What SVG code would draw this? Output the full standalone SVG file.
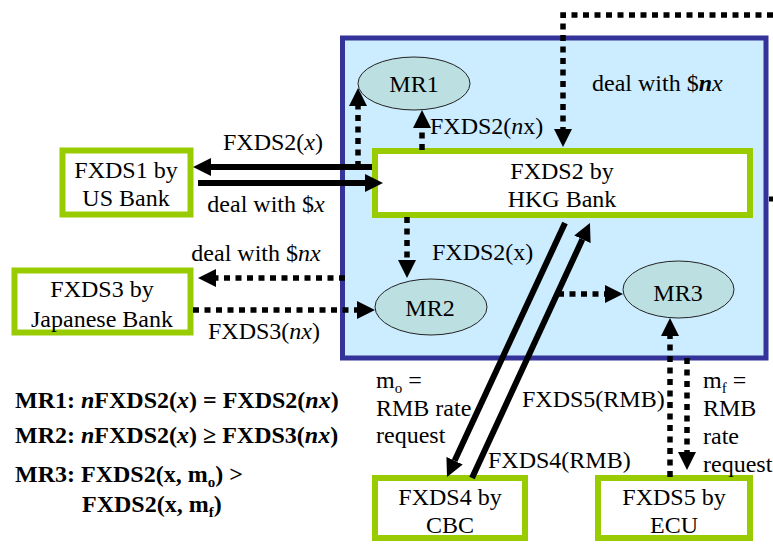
<svg xmlns="http://www.w3.org/2000/svg" width="773" height="544" viewBox="0 0 773 544">
<style>
text{font-family:"Liberation Serif","Times New Roman",serif;font-size:24px;fill:#000}
.c{text-anchor:middle}
.b{font-weight:bold;font-size:24px}
.i{font-style:italic}
.box{fill:#fff;stroke:#99CC00;stroke-width:6}
.mr{fill:#BCE0E2;stroke:#222;stroke-width:1}
.dot{fill:none;stroke:#000;stroke-width:5.5;stroke-dasharray:6 5.5;marker-end:url(#ah)}
.sol{fill:none;stroke:#000;stroke-width:6;marker-end:url(#ah)}
.sub{font-size:15px}
</style>
<defs>
<marker id="ah" viewBox="0 -10 20 20" refX="0" refY="0" markerWidth="20" markerHeight="20" markerUnits="userSpaceOnUse" orient="auto">
<path d="M0,-9 L18,0 L0,9 z" fill="#000"/>
</marker>
</defs>
<rect id="hkg-domain" x="342.5" y="38" width="423.5" height="320" fill="#CCECFF" stroke="#333399" stroke-width="5"/>

<g id="fxds2">
<rect class="box" x="375" y="151" width="375" height="64"/>
<text class="c" x="562" y="179">FXDS2 by</text>
<text class="c" x="562" y="207">HKG Bank</text>
</g>
<g id="fxds1">
<rect class="box" x="62.5" y="150.5" width="128" height="64"/>
<text class="c" x="126" y="178">FXDS1 by</text>
<text class="c" x="126" y="206">US Bank</text>
</g>
<g id="fxds3">
<rect class="box" x="14.5" y="270.5" width="176" height="62"/>
<text class="c" x="102" y="297">FXDS3 by</text>
<text class="c" x="102" y="327">Japanese Bank</text>
</g>
<g id="fxds4">
<rect class="box" x="375" y="478" width="150" height="60"/>
<text class="c" x="450" y="505">FXDS4 by</text>
<text class="c" x="450" y="533">CBC</text>
</g>
<g id="fxds5">
<rect class="box" x="598" y="478" width="152" height="60"/>
<text class="c" x="674" y="505">FXDS5 by</text>
<text class="c" x="674" y="533">ECU</text>
</g>
<g id="mr1">
<ellipse class="mr" cx="414" cy="83.5" rx="56" ry="26.5"/>
<text class="c" x="414" y="92">MR1</text>
</g>
<g id="mr2">
<ellipse class="mr" cx="431" cy="307" rx="56" ry="28"/>
<text class="c" x="430" y="316">MR2</text>
</g>
<g id="mr3">
<ellipse class="mr" cx="678.5" cy="289.5" rx="55.5" ry="28.5"/>
<text class="c" x="678" y="301">MR3</text>
</g>

<g id="connectors">
<path class="dot" d="M773,15 H563 V129"/>
<path class="dot" d="M358,167 V106"/>
<path class="dot" d="M422,150 V128"/>
<path class="dot" d="M407,217 V260"/>
<path class="dot" d="M193,310 H357"/>
<path class="dot" d="M345,278 H216"/>
<path class="dot" d="M558,294 H605"/>
<path class="dot" d="M670,477 V336"/>
<path class="dot" d="M687,358 V452"/>
<path class="sol" d="M372,167 H211"/>
<path class="sol" d="M198,183 H365"/>
<path class="sol" d="M565,223 L454.6,460.7"/>
<path class="sol" d="M472,478 L582.4,239.3"/>
<path d="M769,199 H773" stroke="#000" stroke-width="5"/>
</g>

<g id="labels">
<text class="c" x="273" y="150">FXDS2(<tspan class="i">x</tspan>)</text>
<text class="c" x="266" y="212">deal with $<tspan class="i">x</tspan></text>
<text class="c" x="256" y="261">deal with $<tspan class="i">nx</tspan></text>
<text x="208" y="339">FXDS3(<tspan class="i">nx</tspan>)</text>
<text x="430" y="134">FXDS2(<tspan class="i">n</tspan>x)</text>
<text x="592" y="91">deal with $<tspan class="i" font-weight="bold">n</tspan><tspan class="i">x</tspan></text>
<text x="432" y="260">FXDS2(x)</text>
<text x="376" y="388">m<tspan class="sub" dy="5">o</tspan><tspan dy="-5"> =</tspan></text>
<text x="376" y="416">RMB rate</text>
<text x="376" y="443">request</text>
<text x="522" y="407">FXDS5(RMB)</text>
<text x="488" y="468">FXDS4(RMB)</text>
<text x="703" y="388">m<tspan class="sub" dy="5">f</tspan><tspan dy="-5"> =</tspan></text>
<text x="703" y="416">RMB</text>
<text x="703" y="444">rate</text>
<text x="703" y="472">request</text>
</g>

<g id="legend">
<text class="b" x="15" y="408">MR1: <tspan class="i">n</tspan>FXDS2(<tspan class="i">x</tspan>) = FXDS2(<tspan class="i">nx</tspan>)</text>
<text class="b" x="15" y="443">MR2: <tspan class="i">n</tspan>FXDS2(<tspan class="i">x</tspan>) ≥ FXDS3(<tspan class="i">nx</tspan>)</text>
<text class="b" x="15" y="482">MR3: FXDS2(x, m<tspan class="sub" dy="5">o</tspan><tspan dy="-5">) &gt;</tspan></text>
<text class="b" x="82" y="512">FXDS2(x, m<tspan class="sub" dy="5">f</tspan><tspan dy="-5">)</tspan></text>
</g>
</svg>
